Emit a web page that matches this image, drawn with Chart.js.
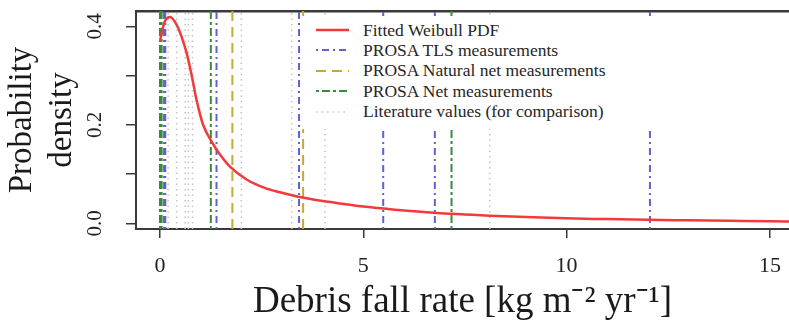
<!DOCTYPE html>
<html>
<head>
<meta charset="utf-8">
<script src="https://cdn.jsdelivr.net/npm/chart.js@4/dist/chart.umd.min.js"></script>
<style>
  html, body { margin: 0; padding: 0; background: #fff; overflow: hidden; }
  #wrap { position: relative; width: 789px; height: 330px; }
  #legend {
    position: absolute; left: 301px; top: 16px; width: 360px; height: 113px;
    background: #fff; font-family: "Liberation Serif", serif; font-size: 17.5px; color: #262626;
  }
  .row { position: absolute; left: 0; height: 20px; display: flex; align-items: center; }
  .row svg { margin-left: 15px; width: 33px; height: 20px; }
  .row span { margin-left: 14px; white-space: nowrap; }
</style>
</head>
<body>
<div id="wrap">
  <canvas id="c" width="789" height="330"></canvas>
  <div id="legend"></div>
</div>
<script>
// ---- data ----
const curveX = [0, 0.04, 0.12, 0.25, 0.41, 0.53, 0.66, 0.78, 0.9, 1.06, 1.27, 1.48, 1.72, 2.13, 2.54, 2.95, 3.4, 3.8, 4.2, 5.0, 5.5, 6.0, 6.8, 7.5, 8.1, 9.0, 10.0, 11.0, 12.0, 13.0, 14.0, 15.0, 15.6];
const curveY = [0.369, 0.386, 0.410, 0.419, 0.403, 0.379, 0.344, 0.300, 0.250, 0.200, 0.166, 0.139, 0.115, 0.089, 0.073, 0.063, 0.054, 0.048, 0.043, 0.034, 0.030, 0.026, 0.021, 0.018, 0.0155, 0.013, 0.010, 0.0085, 0.007, 0.006, 0.005, 0.004, 0.0035];

const tlsValues = [0.1, 0.13, 1.39, 3.42, 5.49, 6.76, 12.05];
const naturalNetValues = [1.78, 3.52];
const netValues = [0.0, 0.04, 1.25, 7.17];
const literatureValues = [0.2, 0.41, 0.62, 0.7, 0.8, 2.0, 3.24, 4.06, 8.11];

const xTicks = [0, 5, 10, 15];
const yTicks = [0, 0.1, 0.2, 0.3, 0.4];
const yTickLabels = ['0.0', '', '0.2', '', '0.4'];

const seriesNames = ['Fitted Weibull PDF', 'PROSA TLS measurements', 'PROSA Natural net measurements', 'PROSA Net measurements', 'Literature values (for comparison)'];

// ---- axis limits ----
const X_MIN = -0.59, X_MAX = 15.47;
const Y_MIN = -0.0116, Y_MAX = 0.431;

const COLORS = { red: '#f23a3a', blue: '#6060d4', gold: '#c9a83a', green: '#3a8a3a', grey: '#c4c4c4' };
const DASH = { tls: [2, 4, 7, 4], natural: [10, 6], net: [3, 3, 8, 3], lit: [1.5, 4] };

function vlines(values) {
  const pts = [];
  values.forEach(v => { pts.push({x: v, y: Y_MIN}, {x: v, y: Y_MAX}, {x: v, y: null}); });
  return pts;
}

function noPad(s) { s.paddingTop = 0; s.paddingBottom = 0; s.paddingLeft = 0; s.paddingRight = 0; }

const serif = '"Liberation Serif", serif';
const axisColor = '#3a3a3a';

new Chart(document.getElementById('c'), {
  type: 'line',
  data: {
    datasets: [
      { label: seriesNames[0], data: curveX.map((x, i) => ({x, y: curveY[i]})), borderColor: COLORS.red, borderWidth: 2.5, pointRadius: 0, cubicInterpolationMode: 'monotone', order: 0 },
      { label: seriesNames[1], data: vlines(tlsValues), borderColor: COLORS.blue, borderWidth: 2, borderDash: DASH.tls, pointRadius: 0, spanGaps: false, tension: 0, order: 1 },
      { label: seriesNames[2], data: vlines(naturalNetValues), borderColor: COLORS.gold, borderWidth: 2, borderDash: DASH.natural, pointRadius: 0, spanGaps: false, tension: 0, order: 2 },
      { label: seriesNames[3], data: vlines(netValues), borderColor: COLORS.green, borderWidth: 2, borderDash: DASH.net, pointRadius: 0, spanGaps: false, tension: 0, order: 3 },
      { label: seriesNames[4], data: vlines(literatureValues), borderColor: COLORS.grey, borderWidth: 1.5, borderDash: DASH.lit, pointRadius: 0, spanGaps: false, tension: 0, order: 4 }
    ]
  },
  options: {
    responsive: false,
    animation: false,
    devicePixelRatio: 1,
    layout: { autoPadding: false, padding: { top: 11, left: 0, right: 0, bottom: 0 } },
    plugins: { legend: { display: false }, tooltip: { enabled: false } },
    scales: {
      x: {
        type: 'linear', position: 'bottom', min: X_MIN, max: X_MAX,
        afterFit: s => { s.height = 101; noPad(s); },
        afterBuildTicks: s => { s.ticks = xTicks.map(v => ({value: v})); },
        grid: { display: true, drawOnChartArea: false, drawTicks: true, tickLength: 9, color: axisColor, lineWidth: 1.5 },
        border: { display: true, color: axisColor, width: 2 },
        ticks: { font: { family: serif, size: 22 }, color: '#222', padding: 15, maxRotation: 0, minRotation: 0, autoSkip: false, callback: v => String(v) },
        title: { display: true, text: 'Debris fall rate [kg m\u207B\u00B2 yr\u207B\u00B9]', font: { family: serif, size: 37, lineHeight: 1.2 }, color: '#1a1a1a', padding: { top: 0, bottom: 6 } }
      },
      xTop: {
        type: 'linear', position: 'top', min: X_MIN, max: X_MAX,
        afterFit: s => { s.height = 0; noPad(s); },
        grid: { display: false, drawTicks: false },
        border: { display: true, color: axisColor, width: 2.5 },
        ticks: { display: false }
      },
      y: {
        type: 'linear', position: 'left', min: Y_MIN, max: Y_MAX,
        afterFit: s => { s.width = 136; noPad(s); },
        afterBuildTicks: s => { s.ticks = yTicks.map(v => ({value: v})); },
        grid: { display: true, drawOnChartArea: false, drawTicks: true, tickLength: 10, color: axisColor, lineWidth: 1.5 },
        border: { display: true, color: axisColor, width: 2 },
        ticks: { font: { family: serif, size: 21 }, color: '#222', padding: 17, minRotation: 90, maxRotation: 90, crossAlign: 'center', autoSkip: false,
                 callback: (v, i) => yTickLabels[i] },
        title: { display: true, text: ['Probability', 'density'], font: { family: serif, size: 33, lineHeight: 1.22 }, color: '#1a1a1a', padding: { top: 2, bottom: 0 } }
      }
    }
  }
});

// ---- legend (drawn over the plot with a white background, like the reference) ----
const legendItems = [
  { name: seriesNames[0], color: COLORS.red, dash: null, w: 2.5 },
  { name: seriesNames[1], color: COLORS.blue, dash: DASH.tls, w: 2 },
  { name: seriesNames[2], color: COLORS.gold, dash: DASH.natural, w: 2 },
  { name: seriesNames[3], color: COLORS.green, dash: DASH.net, w: 2 },
  { name: seriesNames[4], color: COLORS.grey, dash: DASH.lit, w: 1.5 }
];
const leg = document.getElementById('legend');
legendItems.forEach((it, i) => {
  const row = document.createElement('div');
  row.className = 'row';
  row.style.top = (4 + i * 20.4) + 'px';
  const da = it.dash ? ` stroke-dasharray="${it.dash.join(' ')}"` : '';
  row.innerHTML = `<svg viewBox="0 0 33 20"><line x1="0" y1="10" x2="33" y2="10" stroke="${it.color}" stroke-width="${it.w}"${da}/></svg><span>${it.name}</span>`;
  leg.appendChild(row);
});
</script>
</body>
</html>
